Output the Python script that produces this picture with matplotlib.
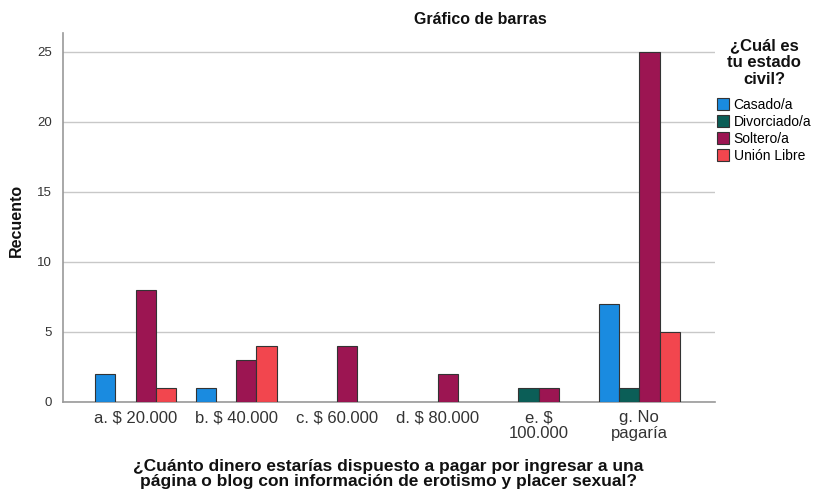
import matplotlib
matplotlib.use("Agg")
import matplotlib.pyplot as plt
import numpy as np

plt.rcParams['font.family'] = ['Liberation Sans', 'DejaVu Sans']

categories = ["a. $ 20.000", "b. $ 40.000", "c. $ 60.000", "d. $ 80.000",
              "e. $\n100.000", "g. No\npagaría"]
series_names = ["Casado/a", "Divorciado/a", "Soltero/a", "Unión Libre"]
casado = [2, 1, 0, 0, 0, 7]
divorciado = [0, 0, 0, 0, 1, 1]
soltero = [8, 3, 4, 2, 1, 25]
union_libre = [1, 4, 0, 0, 0, 5]
colors = ["#1a8be0", "#0b5e57", "#9c1552", "#f2464e"]

W, H = 815, 491
fig = plt.figure(figsize=(W/100, H/100), dpi=100)
ax = fig.add_axes([63/W, 1 - 402/H, (715-63)/W, (402-33)/H])

x = np.arange(len(categories))
bw = 0.2
data = [casado, divorciado, soltero, union_libre]
for i, (vals, c, name) in enumerate(zip(data, colors, series_names)):
    xs = x + (i - 1.5) * bw
    v = np.array(vals, dtype=float)
    mask = v > 0
    ax.bar(xs[mask], v[mask], width=bw, color=c, edgecolor="#333333",
           linewidth=0.8, zorder=3, label=name)

ax.set_xlim(-0.72, 5.75)
ax.set_ylim(0, (402-33)/14)
ax.set_yticks([0, 5, 10, 15, 20, 25])
ax.set_xticks(x)
ax.set_xticklabels(categories, fontsize=12, color="#333333", linespacing=1.05)
ax.tick_params(axis='y', labelsize=9.5, colors="#333333", length=0, pad=8)
ax.tick_params(axis='x', length=0, pad=6)
ax.grid(axis='y', color="#c8c8c8", linewidth=1, zorder=0)
for s in ["top", "right"]:
    ax.spines[s].set_visible(False)
for s in ["left", "bottom"]:
    ax.spines[s].set_color("#999999")
    ax.spines[s].set_linewidth(1.2)

fig.text(16/W, 1 - 220/H, "Recuento", rotation=90, ha='center', va='center',
         fontsize=11.5, fontweight='bold', color="#111111")
fig.text(480/W, 1 - 19/H, "Gráfico de barras", ha='center', va='center',
         fontsize=11.5, fontweight='bold', color="#111111")
fig.text(388/W, 1 - 474/H,
         "¿Cuánto dinero estarías dispuesto a pagar por ingresar a una\npágina o blog con información de erotismo y placer sexual?",
         ha='center', va='center', fontsize=12.5, fontweight='bold',
         color="#111111", linespacing=1.0)

handles, labels = ax.get_legend_handles_labels()
leg = fig.legend(handles, labels, loc='upper center', bbox_to_anchor=(764/W, 1 - 38/H),
                 title="¿Cuál es\ntu estado\ncivil?", frameon=False,
                 fontsize=10, title_fontproperties={'weight': 'bold', 'size': 12},
                 handlelength=0.9, handleheight=0.9, handletextpad=0.3,
                 labelspacing=0.22, borderaxespad=0, borderpad=0)
leg.get_title().set_linespacing(1.15)
leg.get_title().set_multialignment('center')
leg.get_title().set_color("#111111")
leg._legend_box.sep = 8

fig.savefig("out.png", dpi=100)
